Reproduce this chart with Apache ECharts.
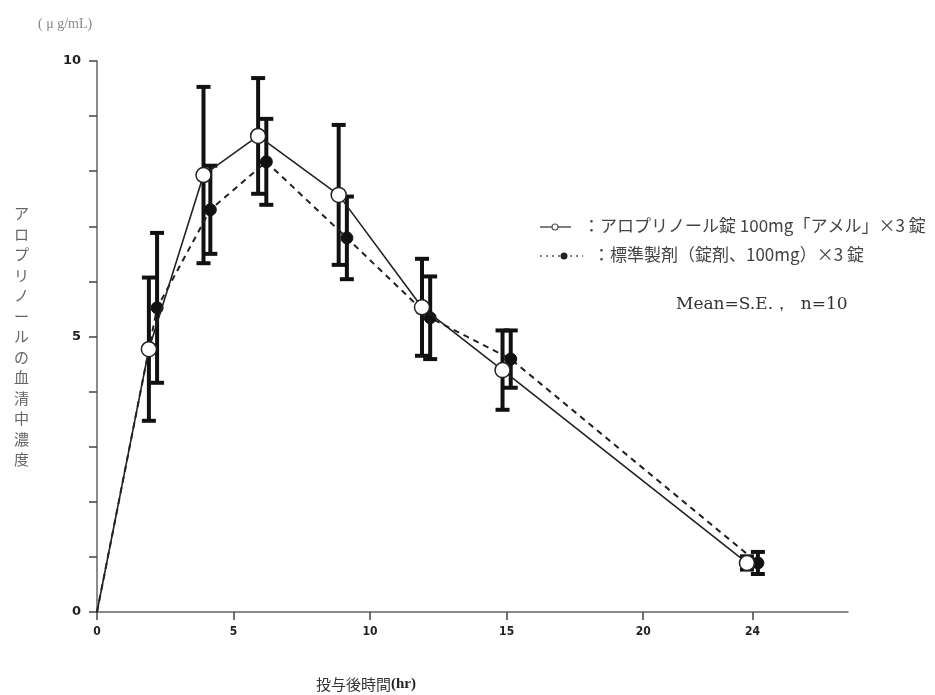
<!DOCTYPE html>
<html><head><meta charset="utf-8">
<script src="https://cdn.jsdelivr.net/npm/echarts@6/dist/echarts.min.js"></script>
<style>html,body{margin:0;padding:0;background:#fff}#c{width:935px;height:695px}</style>
</head><body><div id="c"></div>
<script>
// ---- data ----
const timesA = [0, 1.9, 3.9, 5.9, 8.85, 11.9, 14.85, 23.8];
const meanA  = [0, 4.77, 7.93, 8.64, 7.57, 5.53, 4.39, 0.89];
const seA    = [0, 1.30, 1.60, 1.05, 1.27, 0.88, 0.72, 0.12];
const timesB = [0, 2.2, 4.15, 6.2, 9.15, 12.2, 15.15, 24.2];
const meanB  = [0, 5.52, 7.30, 8.17, 6.79, 5.34, 4.59, 0.89];
const seB    = [0, 1.36, 0.80, 0.78, 0.75, 0.75, 0.52, 0.20];
const xTicks = [0, 5, 10, 15, 20, 24];
const yLabels = [0, 5, 10];
const nameA = 'アロプリノール錠 100mg「アメル」×3 錠';
const nameB = '標準製剤（錠剤、100mg）×3 錠';
const yName = 'アロプリノールの血清中濃度';
const xNameMain = '投与後時間';
const xNameUnit = '(hr)';
const unit = '( μ g/mL)';
const note = 'Mean=S.E.，  n=10';

const jp = '"Noto Sans CJK JP", sans-serif';
const ptsA = timesA.map((t, i) => i === 0 ? {value: [t, meanA[i]], symbol: 'none'} : [t, meanA[i]]);
const ptsB = timesB.map((t, i) => i === 0 ? {value: [t, meanB[i]], symbol: 'none'} : [t, meanB[i]]);
const errA = timesA.map((t, i) => [t, meanA[i] - seA[i], meanA[i] + seA[i]]).slice(1);
const errB = timesB.map((t, i) => [t, meanB[i] - seB[i], meanB[i] + seB[i]]).slice(1);

function errRender(params, api) {
  const x = api.value(0);
  const lo = api.coord([x, api.value(1)]);
  const hi = api.coord([x, api.value(2)]);
  const w = 7;
  const st = {stroke: '#111', lineWidth: 4};
  return {type: 'group', children: [
    {type: 'line', shape: {x1: lo[0], y1: lo[1], x2: hi[0], y2: hi[1]}, style: st},
    {type: 'line', shape: {x1: lo[0] - w, y1: lo[1], x2: lo[0] + w, y2: lo[1]}, style: st},
    {type: 'line', shape: {x1: hi[0] - w, y1: hi[1], x2: hi[0] + w, y2: hi[1]}, style: st}
  ]};
}

const chart = echarts.init(document.getElementById('c'));
chart.setOption({
  backgroundColor: '#fff',
  animation: false,
  grid: {left: 97, right: 87, top: 61, bottom: 83},
  xAxis: {
    type: 'value', min: 0, max: 27.5,
    axisLine: {lineStyle: {color: '#666', width: 1.5}},
    axisTick: {customValues: xTicks, length: 8, lineStyle: {color: '#444', width: 1.5}},
    axisLabel: {customValues: xTicks, margin: 14, color: '#222', fontSize: 12, fontWeight: 'bold', fontFamily: 'DejaVu Sans Condensed, sans-serif'},
    splitLine: {show: false}
  },
  yAxis: {
    type: 'value', min: 0, max: 10, interval: 1,
    name: yName.split('').join('\n'), nameLocation: 'middle', nameRotate: 0, nameGap: 68,
    nameTextStyle: {color: '#666', fontSize: 15, lineHeight: 20.5, fontFamily: jp},
    axisLine: {show: true, lineStyle: {color: '#666', width: 1.5}},
    axisTick: {show: true, length: 8, lineStyle: {color: '#444', width: 1.5}},
    axisLabel: {margin: 16, color: '#222', fontSize: 13, fontWeight: 'bold', fontFamily: 'DejaVu Sans, sans-serif',
      formatter: v => yLabels.includes(v) ? String(v) : ''},
    splitLine: {show: false}
  },
  series: [
    {type: 'custom', name: 'errA', renderItem: errRender, data: errA, z: 2, encode: {x: 0, y: [1, 2]}},
    {type: 'custom', name: 'errB', renderItem: errRender, data: errB, z: 2, encode: {x: 0, y: [1, 2]}},
    {type: 'line', name: nameB, data: ptsB, z: 3, symbol: 'circle', symbolSize: 12,
      lineStyle: {color: '#222', width: 2, type: [6, 5]}, itemStyle: {color: '#111', borderColor: '#111', borderWidth: 1}},
    {type: 'line', name: nameA, data: ptsA, z: 4, symbol: 'circle', symbolSize: 15,
      lineStyle: {color: '#222', width: 1.6}, itemStyle: {color: '#fff', borderColor: '#222', borderWidth: 1.5}}
  ],
  graphic: [
    {type: 'text', left: 38, top: 17, style: {text: unit, fill: '#888', fontSize: 14, fontFamily: 'Liberation Serif, serif'}},
    {type: 'text', left: 316, top: 677, style: {
      text: '{a|' + xNameMain + '}{b|' + xNameUnit + '}',
      rich: {
        a: {fill: '#333', fontSize: 15, fontFamily: jp},
        b: {fill: '#222', fontSize: 15, fontWeight: 'bold', fontFamily: 'Liberation Serif, serif'}
      }}},
    // legend A
    {type: 'line', shape: {x1: 540, y1: 227, x2: 571, y2: 227}, style: {stroke: '#555', lineWidth: 1.5}},
    {type: 'circle', shape: {cx: 555, cy: 227, r: 3}, style: {fill: '#fff', stroke: '#555', lineWidth: 1.2}},
    {type: 'text', left: 583, top: 217, style: {text: '：' + nameA, fill: '#444', fontSize: 17, fontFamily: jp}},
    // legend B
    {type: 'line', shape: {x1: 540, y1: 256, x2: 583, y2: 256}, style: {stroke: '#555', lineWidth: 1.5, lineDash: [2, 4]}},
    {type: 'circle', shape: {cx: 564, cy: 256, r: 3.5}, style: {fill: '#222'}},
    {type: 'text', left: 593, top: 246, style: {text: '：' + nameB, fill: '#444', fontSize: 17, fontFamily: jp}},
    {type: 'text', left: 676, top: 296, style: {text: note, fill: '#333', fontSize: 17, fontFamily: 'DejaVu Serif, serif'}}
  ]
});
</script></body></html>
